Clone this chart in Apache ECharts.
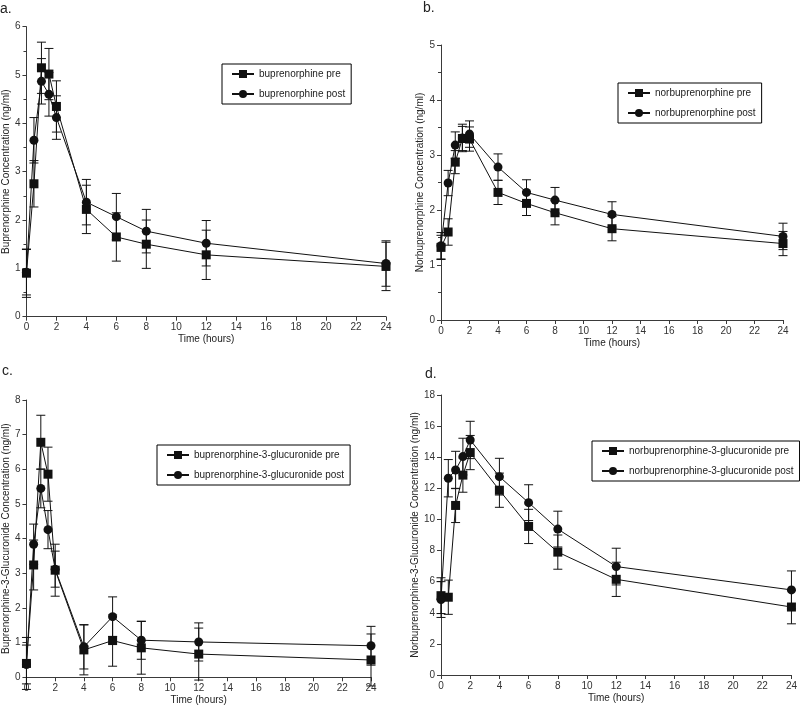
<!DOCTYPE html>
<html><head><meta charset="utf-8">
<script src="https://cdn.jsdelivr.net/npm/echarts@6/dist/echarts.min.js"></script>
<style>html,body{margin:0;padding:0;background:#fff}#c{width:800px;height:708px}</style>
</head><body><div id="c"></div>
<script>
const times = [0, 0.5, 1, 1.5, 2, 4, 6, 8, 12, 24];
const xTicks = [0,2,4,6,8,10,12,14,16,18,20,22,24];

const buPre = [0.90, 2.75, 5.15, 5.02, 4.35, 2.22, 1.65, 1.50, 1.28, 1.04];
const buPreErr = [0.50, 0.48, 0.53, 0.53, 0.53, 0.50, 0.50, 0.50, 0.51, 0.50];
const buPost = [0.92, 3.65, 4.87, 4.60, 4.12, 2.37, 2.07, 1.77, 1.52, 1.10];
const buPostErr = [0.47, 0.47, 0.47, 0.45, 0.45, 0.47, 0.48, 0.45, 0.47, 0.47];

const nbPre = [1.32, 1.60, 2.87, 3.30, 3.29, 2.32, 2.12, 1.95, 1.66, 1.39];
const nbPreErr = [0.22, 0.24, 0.21, 0.22, 0.22, 0.22, 0.22, 0.22, 0.22, 0.22];
const nbPost = [1.35, 2.49, 3.18, 3.31, 3.38, 2.78, 2.32, 2.18, 1.92, 1.52];
const nbPostErr = [0.24, 0.23, 0.24, 0.25, 0.24, 0.24, 0.23, 0.23, 0.23, 0.24];

const bgPre = [0.40, 3.24, 6.78, 5.86, 3.09, 0.79, 1.06, 0.85, 0.67, 0.50];
const bgPreErr = [0.75, 0.72, 0.78, 0.78, 0.75, 0.72, 0.74, 0.76, 0.75, 0.75];
const bgPost = [0.37, 3.84, 5.45, 4.26, 3.12, 0.88, 1.75, 1.07, 1.02, 0.91];
const bgPostErr = [0.56, 0.58, 0.56, 0.55, 0.52, 0.64, 0.57, 0.55, 0.55, 0.56];

const ngPre = [5.10, 5.00, 10.90, 12.85, 14.30, 11.88, 9.55, 7.90, 6.15, 4.37];
const ngPreErr = [1.15, 1.10, 1.10, 1.10, 1.10, 1.10, 1.10, 1.10, 1.10, 1.08];
const ngPost = [4.85, 12.65, 13.18, 14.04, 15.11, 12.75, 11.08, 9.38, 6.97, 5.47];
const ngPostErr = [1.15, 1.20, 1.20, 1.18, 1.20, 1.18, 1.15, 1.15, 1.18, 1.22];

const panels = [
  {letter:'a.', yName:'Buprenorphine Concentration (ng/ml)', yMax:6, yInt:1, minor:true,
   names:['buprenorphine pre','buprenorphine post'], pre:buPre, preErr:buPreErr, post:buPost, postErr:buPostErr},
  {letter:'b.', yName:'Norbuprenorphine Concentration (ng/ml)', yMax:5, yInt:1, minor:true,
   names:['norbuprenorphine pre','norbuprenorphine post'], pre:nbPre, preErr:nbPreErr, post:nbPost, postErr:nbPostErr},
  {letter:'c.', yName:'Buprenorphine-3-Glucuronide Concentration (ng/ml)', yMax:8, yInt:1, minor:false,
   names:['buprenorphine-3-glucuronide pre','buprenorphine-3-glucuronide post'], pre:bgPre, preErr:bgPreErr, post:bgPost, postErr:bgPostErr},
  {letter:'d.', yName:'Norbuprenorphine-3-Glucuronide Concentration (ng/ml)', yMax:18, yInt:2, minor:false,
   names:['norbuprenorphine-3-glucuronide pre','norbuprenorphine-3-glucuronide post'], pre:ngPre, preErr:ngPreErr, post:ngPost, postErr:ngPostErr}
];

// layout (pixels)
const grids = [
  {left:25, top:26.7, width:361, height:290},
  {left:441, top:45, width:342, height:275},
  {left:25, top:400, width:346, height:277.3},
  {left:441, top:395, width:353, height:280}
];
const legendPos = [
  {left:222, top:64},
  {left:618, top:83},
  {left:157, top:445},
  {left:592, top:441}
];
const letterPos = [[0,2],[423,1],[2,364],[425,367]];

const FONT = 'Liberation Sans, Arial, Helvetica, sans-serif';
const AX = '#3a3a3a';
const INK = '#111';

function errSeries(gi, mean, err) {
  return {
    type:'custom', xAxisIndex:gi, yAxisIndex:gi, z:2, clip:false, silent:true,
    data: times.map((t,i)=>[t, mean[i]-err[i], mean[i]+err[i]]),
    renderItem:function(params, api){
      const lo = api.coord([api.value(0), api.value(1)]);
      const hi = api.coord([api.value(0), api.value(2)]);
      const w = 4.5;
      const st = {stroke:INK, lineWidth:1};
      return {type:'group', children:[
        {type:'line', shape:{x1:lo[0],y1:lo[1],x2:hi[0],y2:hi[1]}, style:st},
        {type:'line', shape:{x1:lo[0]-w,y1:lo[1],x2:lo[0]+w,y2:lo[1]}, style:st},
        {type:'line', shape:{x1:hi[0]-w,y1:hi[1],x2:hi[0]+w,y2:hi[1]}, style:st}
      ]};
    }
  };
}

const option = {
  animation:false,
  backgroundColor:'#fff',
  textStyle:{fontFamily:FONT},
  grid: grids.map(g=>Object.assign({containLabel:false}, g)),
  xAxis: grids.map((g,i)=>({
    type:'value', gridIndex:i, min:0, max:24, interval:2,
    name:'Time (hours)', nameLocation:'middle', nameGap:18,
    nameTextStyle:{fontSize:10, color:'#222', fontFamily:FONT},
    axisLine:{show:true, onZero:false, lineStyle:{color:AX, width:1}},
    axisTick:{show:true, length:4, inside:false, lineStyle:{color:AX}},
    axisLabel:{fontSize:10, color:'#333', margin:6, fontFamily:FONT},
    splitLine:{show:false}
  })),
  yAxis: panels.map((p,i)=>({
    type:'value', gridIndex:i, min:0, max:p.yMax, interval:p.yInt,
    name:p.yName, nameLocation:'middle', nameGap:14, nameRotate:90,
    nameTextStyle:{fontSize:10, color:'#222', fontFamily:FONT},
    axisLine:{show:true, onZero:false, lineStyle:{color:AX, width:1}},
    axisTick:{show:true, length:4, inside:false, lineStyle:{color:AX}},
    minorTick:{show:p.minor, splitNumber:2, length:3, lineStyle:{color:AX}},
    axisLabel:{fontSize:10, color:'#333', margin:6, fontFamily:FONT},
    splitLine:{show:false}
  })),
  legend: panels.map((p,i)=>({
    left:legendPos[i].left, top:legendPos[i].top, orient:'vertical',
    data:p.names, borderColor:'#000', borderWidth:1, padding:[5,6,5,9],
    itemWidth:22, itemHeight:10, itemGap:10,
    textStyle:{fontSize:10, color:'#222', fontFamily:FONT}
  })),
  graphic: panels.map((p,i)=>({
    type:'text', left:letterPos[i][0], top:letterPos[i][1],
    style:{text:p.letter, fontSize:14, fill:'#222', font:'14px '+FONT}
  })),
  series: []
};

panels.forEach((p,i)=>{
  option.series.push(errSeries(i, p.pre, p.preErr));
  option.series.push(errSeries(i, p.post, p.postErr));
  option.series.push({
    type:'line', name:p.names[0], xAxisIndex:i, yAxisIndex:i, z:3,
    data: times.map((t,k)=>[t, p.pre[k]]),
    symbol:'rect', symbolSize:9,
    lineStyle:{color:INK, width:1}, itemStyle:{color:INK, borderWidth:0}
  });
  option.series.push({
    type:'line', name:p.names[1], xAxisIndex:i, yAxisIndex:i, z:3,
    data: times.map((t,k)=>[t, p.post[k]]),
    symbol:'circle', symbolSize:9,
    lineStyle:{color:INK, width:1}, itemStyle:{color:INK, borderWidth:0}
  });
});

const chart = echarts.init(document.getElementById('c'), null, {renderer:'canvas'});
chart.setOption(option);
</script>
</body></html>
